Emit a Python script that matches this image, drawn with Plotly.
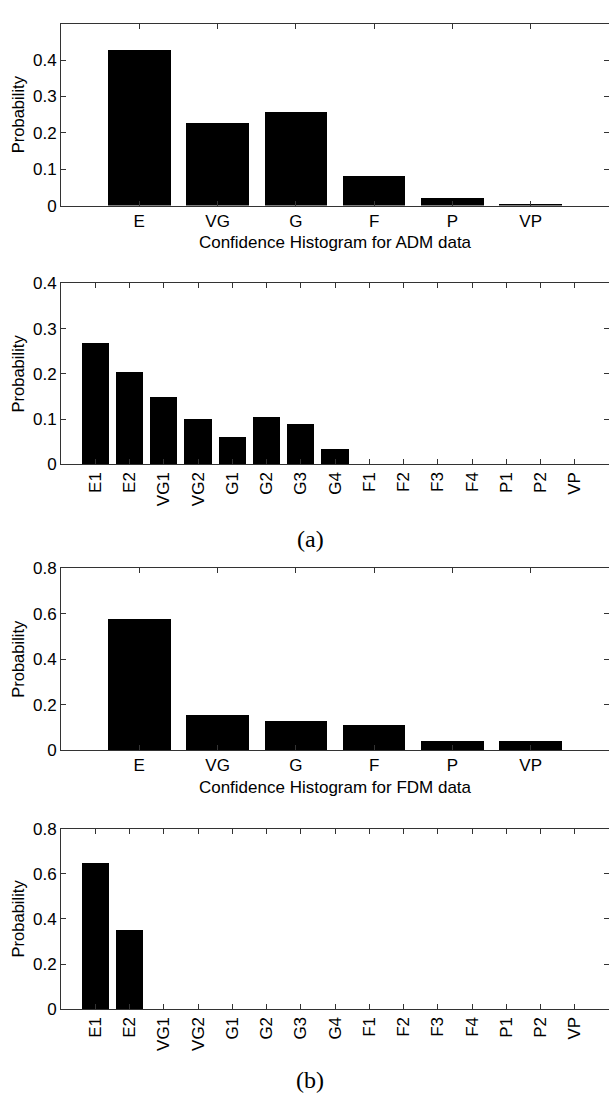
import plotly.graph_objects as go
from plotly.subplots import make_subplots

# ---- data ----
cats6 = ["E", "VG", "G", "F", "P", "VP"]
cats15 = ["E1", "E2", "VG1", "VG2", "G1", "G2", "G3", "G4",
          "F1", "F2", "F3", "F4", "P1", "P2", "VP"]
adm6 = [0.429, 0.227, 0.259, 0.083, 0.022, 0.004]
adm15 = [0.268, 0.204, 0.148, 0.100, 0.060, 0.104, 0.088, 0.032,
         0, 0, 0, 0, 0, 0, 0]
fdm6 = [0.577, 0.150, 0.125, 0.107, 0.039, 0.039]
fdm15 = [0.648, 0.352, 0, 0, 0, 0, 0, 0, 0, 0, 0, 0, 0, 0, 0]

xtitle1 = "Confidence Histogram for ADM data"
xtitle3 = "Confidence Histogram for FDM data"
ytitle = "Probability"
ticks_a = [0, 0.1, 0.2, 0.3, 0.4]
ticks_b = [0, 0.2, 0.4, 0.6, 0.8]
yranges = [[0, 0.5], [0, 0.4], [0, 0.8], [0, 0.8]]

W, H = 609, 1101
# panel pixel extents (top, bottom)
panels = [(15, 200), (279.3, 463.3), (569.3, 754), (834, 1017.7)]

fig = make_subplots(rows=4, cols=1)

series = [(cats6, adm6), (cats15, adm15), (cats6, fdm6), (cats15, fdm15)]
for i, (c, v) in enumerate(series):
    fig.add_trace(go.Bar(x=c, y=v, width=0.8,
                         marker=dict(color="black", line=dict(width=0)),
                         showlegend=False), row=i + 1, col=1)

font = dict(family="Liberation Sans, Arial, sans-serif", size=17, color="black")
axcol = "#333333"

for i in range(4):
    top, bot = panels[i]
    dom = [1 - bot / H, 1 - top / H]
    n = 6 if i in (0, 2) else 15
    xname = "x" if i == 0 else "x%d" % (i + 1)
    yname = "y" if i == 0 else "y%d" % (i + 1)
    xa = dict(domain=[0, 1], range=[-1, n], showline=True, linecolor=axcol,
              linewidth=1, mirror="ticks", ticks="inside", ticklen=5,
              tickcolor=axcol, tickwidth=1, showgrid=False, zeroline=False,
              tickfont=font, fixedrange=True)
    if n == 15:
        xa["tickangle"] = -90
    if i == 0:
        xa["title"] = dict(text=xtitle1, font=font, standoff=6)
    if i == 2:
        xa["title"] = dict(text=xtitle3, font=font, standoff=6)
    tv = ticks_a if i < 2 else ticks_b
    ya = dict(domain=dom, range=yranges[i], showline=True, linecolor=axcol,
              linewidth=1, mirror=False, ticks="inside", ticklen=5,
              tickcolor=axcol, tickwidth=1, showgrid=False, zeroline=False,
              tickvals=tv, ticktext=[("%g" % t) for t in tv],
              tickfont=font, fixedrange=True,
              title=dict(text=ytitle, font=dict(family=font["family"], size=16.5, color="black"),
                         standoff=4))
    # right-hand ticks without a border line (box edge lies at the image edge)
    k = i + 5
    yr = dict(overlaying=yname, anchor=xname, side="right", range=yranges[i],
              showline=False, ticks="inside", ticklen=5, tickcolor=axcol,
              tickwidth=1, tickvals=tv, showticklabels=False, showgrid=False,
              zeroline=False, fixedrange=True)
    fig.update_layout(**{("xaxis" if i == 0 else "xaxis%d" % (i + 1)): xa,
                         ("yaxis" if i == 0 else "yaxis%d" % (i + 1)): ya,
                         "yaxis%d" % k: yr})
    fig.add_trace(go.Scatter(x=[None], y=[None], xaxis=xname, yaxis="y%d" % k,
                             showlegend=False, hoverinfo="skip"))

fig.add_annotation(text="(a)", x=(310 - 61) / (W - 61), y=1 - 539 / H,
                   xref="paper", yref="paper", showarrow=False,
                   xanchor="center", yanchor="middle",
                   font=dict(family="Liberation Serif, Times New Roman, serif", size=24, color="black"))
fig.add_annotation(text="(b)", x=(310 - 61) / (W - 61), y=1 - 1090 / H,
                   xref="paper", yref="paper", showarrow=False,
                   xanchor="center", yanchor="middle",
                   font=dict(family="Liberation Serif, Times New Roman, serif", size=24, color="black"))

fig.update_layout(width=W, height=H, margin=dict(l=61, r=0, t=0, b=0),
                  plot_bgcolor="white", paper_bgcolor="white",
                  bargap=0, showlegend=False)

fig.write_html("out.html")
